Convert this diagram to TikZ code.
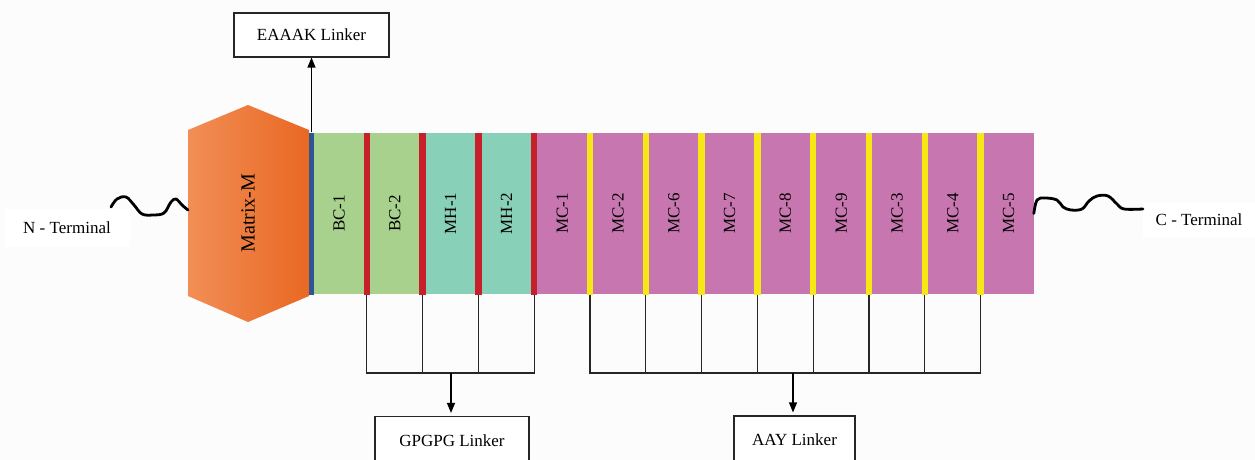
\documentclass[tikz,border=0pt]{standalone}
\usepackage{fontspec}
\setmainfont{Liberation Serif}
\usetikzlibrary{arrows.meta}

\definecolor{paper}{RGB}{252,252,252}
\definecolor{bcgreen}{RGB}{169,209,142}
\definecolor{mhteal}{RGB}{137,208,184}
\definecolor{mcpink}{RGB}{199,118,176}
\definecolor{gpred}{RGB}{200,32,42}
\definecolor{aayyellow}{RGB}{246,232,20}
\definecolor{eablue}{RGB}{46,84,150}
\definecolor{hexlight}{RGB}{241,142,86}
\definecolor{hexdark}{RGB}{233,104,34}

\begin{document}
\begin{tikzpicture}[x=1pt,y=-1pt,
	lbl/.style={font=\fontsize{17}{20}\selectfont},
	block/.style={lbl,rotate=90,minimum width=161pt,minimum height=50pt,inner sep=0pt},
	linker/.style={minimum width=6.5pt,minimum height=162pt,inner sep=0pt},
	tagbox/.style={lbl,draw=black!85,line width=1.1pt,fill=white,inner sep=0pt},
	bracket/.style={black!85,line width=1.1pt},
	arrow/.style={black,line width=1.1pt,-{Triangle[length=10pt,width=8pt]}},
	wave/.style={black,line width=2.8pt,line cap=round,line join=round}]
	\fill [paper] (0,0) rectangle (1255,460);
	\useasboundingbox (0,0) rectangle (1255,460);
	% matrix protein
	\shade [left color=hexlight,right color=hexdark] (188,130) -- (248,105) -- (309,130) -- (309,296) -- (248,322) -- (188,296) -- cycle;
	\node [lbl,rotate=90,font=\fontsize{20}{24}\selectfont] (matrix) at (248,213) {Matrix-M};
	\coordinate (hexw) at (188,210);
	% epitopes
	\node [block,fill=bcgreen] (bc1) at (339.0,213.5) {BC-1};
	\node [block,fill=bcgreen] (bc2) at (394.8,213.5) {BC-2};
	\node [block,fill=mhteal] (mh1) at (450.6,213.5) {MH-1};
	\node [block,fill=mhteal] (mh2) at (506.4,213.5) {MH-2};
	\node [block,fill=mcpink] (mc1) at (562.2,213.5) {MC-1};
	\node [block,fill=mcpink] (mc2) at (618.0,213.5) {MC-2};
	\node [block,fill=mcpink] (mc6) at (673.8,213.5) {MC-6};
	\node [block,fill=mcpink] (mc7) at (729.6,213.5) {MC-7};
	\node [block,fill=mcpink] (mc8) at (785.4,213.5) {MC-8};
	\node [block,fill=mcpink] (mc9) at (841.2,213.5) {MC-9};
	\node [block,fill=mcpink] (mc3) at (897.0,213.5) {MC-3};
	\node [block,fill=mcpink] (mc4) at (952.8,213.5) {MC-4};
	\node [block,fill=mcpink] (mc5) at (1008.6,213.5) {MC-5};
	% linkers
	\node [linker,fill=eablue,minimum width=5pt] (l0) at (311.5,213.5) {};
	\node [linker,fill=gpred] (l1) at (366.8,213.5) {};
	\node [linker,fill=gpred] (l2) at (422.6,213.5) {};
	\node [linker,fill=gpred] (l3) at (478.4,213.5) {};
	\node [linker,fill=gpred] (l4) at (534.2,213.5) {};
	\node [linker,fill=aayyellow] (l5) at (590.0,213.5) {};
	\node [linker,fill=aayyellow] (l6) at (645.8,213.5) {};
	\node [linker,fill=aayyellow] (l7) at (701.6,213.5) {};
	\node [linker,fill=aayyellow] (l8) at (757.4,213.5) {};
	\node [linker,fill=aayyellow] (l9) at (813.2,213.5) {};
	\node [linker,fill=aayyellow] (l10) at (869.0,213.5) {};
	\node [linker,fill=aayyellow] (l11) at (924.8,213.5) {};
	\node [linker,fill=aayyellow] (l12) at (980.6,213.5) {};
	% label boxes
	\node [tagbox,minimum width=155pt,minimum height=44pt] (eaaak) at (311.5,35) {EAAAK Linker};
	\node [tagbox,minimum width=154pt,minimum height=48pt] (gpgpg) at (452,440.5) {GPGPG Linker};
	\node [tagbox,minimum width=121pt,minimum height=48pt] (aay) at (794.5,440) {AAY Linker};
	\node [lbl,fill=white,minimum width=125pt,minimum height=38pt] (nterm) at (67,228) {N - Terminal};
	\node [lbl,fill=white,minimum width=112pt,minimum height=36pt] (cterm) at (1199,220) {C - Terminal};
	% terminals
	\coordinate (ntail) at (111,207);
	\coordinate (ctail) at (1143,209);
	\draw [wave] plot [smooth,tension=0.6] coordinates {(ntail) (117,199) (126,197) (134,205) (142,214) (153,215) (164,213) (171,202) (176,199) (182,205) (hexw)};
	\draw [wave] plot [smooth,tension=0.6] coordinates {(mc5.south) (1037,200) (1045,198) (1057,200) (1063,207) (1071,210) (1082,209) (1089,201) (1097,196) (1108,196) (1117,204) (1124,209) (ctail)};
	% EAAAK
	\draw [arrow] (l0.north) -- (l0.north |- eaaak.south);
	% GPGPG bracket
	\coordinate (gbar) at (451,373);
	\draw [bracket] (l1.south) -- (l1.south |- gbar) -- (l4.south |- gbar) -- (l4.south);
	\draw [bracket] (l2.south) -- (l2.south |- gbar);
	\draw [bracket] (l3.south) -- (l3.south |- gbar);
	\draw [arrow,shorten >=3pt] (gbar) -- (gbar |- gpgpg.north);
	% AAY bracket
	\coordinate (abar) at (793,373);
	\draw [bracket] (l5.south) -- (l5.south |- abar) -- (l12.south |- abar) -- (l12.south);
	\draw [bracket] (l6.south) -- (l6.south |- abar);
	\draw [bracket] (l7.south) -- (l7.south |- abar);
	\draw [bracket] (l8.south) -- (l8.south |- abar);
	\draw [bracket] (l9.south) -- (l9.south |- abar);
	\draw [bracket] (l10.south) -- (l10.south |- abar);
	\draw [bracket] (l11.south) -- (l11.south |- abar);
	\draw [arrow,shorten >=3pt] (abar) -- (abar |- aay.north);
\end{tikzpicture}
\end{document}
